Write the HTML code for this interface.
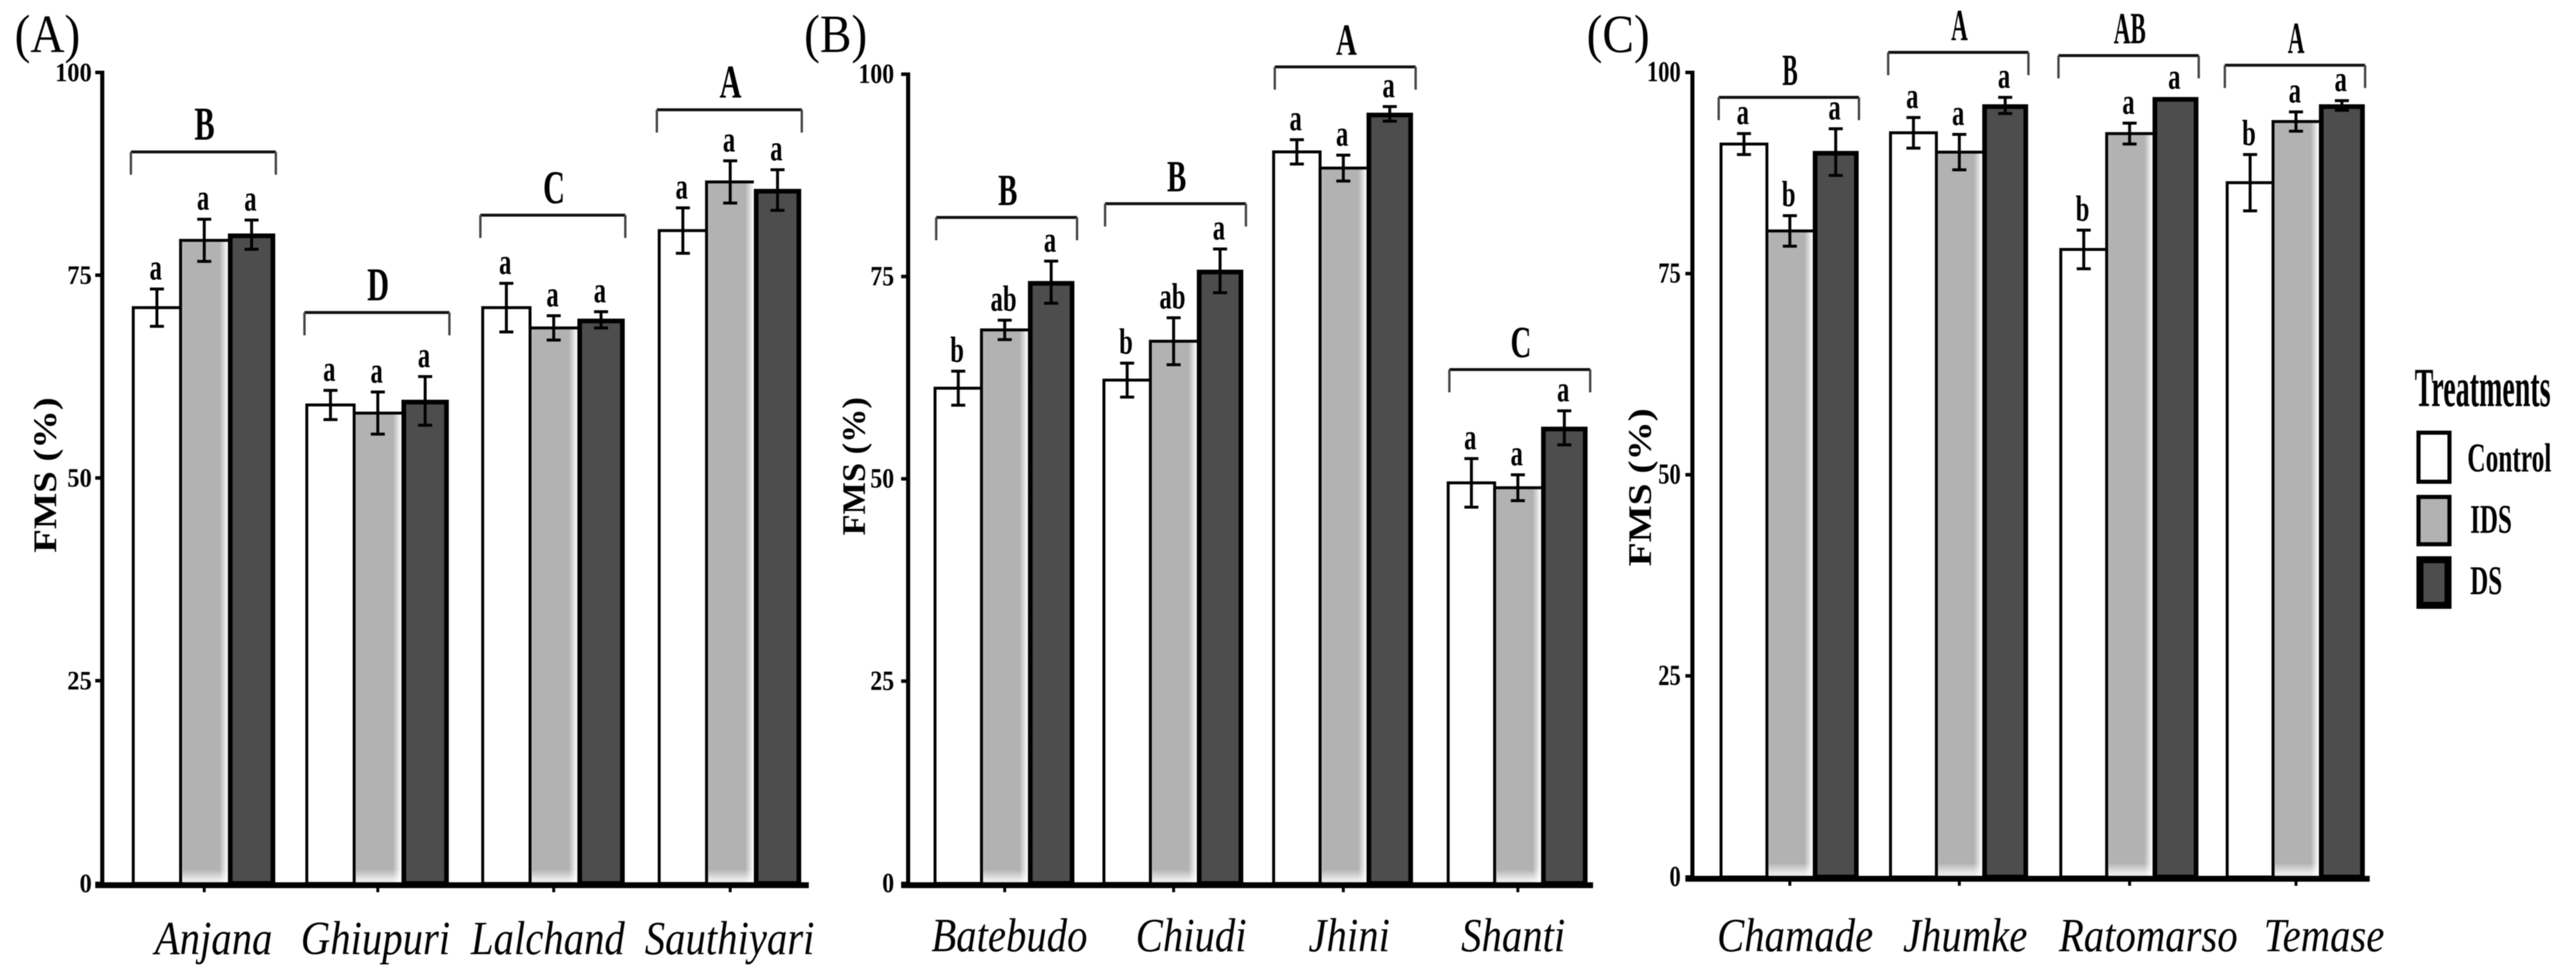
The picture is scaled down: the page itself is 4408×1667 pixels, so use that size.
<!DOCTYPE html>
<html lang="en">
<head>
<meta charset="utf-8">
<title>FMS by treatment</title>
<style>
html,body{margin:0;padding:0;background:#fff;width:4408px;height:1667px;overflow:hidden}
svg{display:block;filter:blur(0.9px)}
text{font-family:"Liberation Serif",serif;fill:#000}
</style>
</head>
<body>
<svg id="fig" xmlns="http://www.w3.org/2000/svg" width="4408" height="1667" viewBox="0 0 4408 1667">
<defs>
<linearGradient id="idsFill" x1="0" x2="1" y1="0" y2="0">
<stop offset="0" stop-color="#bdbdbd"/><stop offset="0.08" stop-color="#b2b2b2"/><stop offset="0.82" stop-color="#b2b2b2"/><stop offset="0.96" stop-color="#eeeeee"/><stop offset="1" stop-color="#fff"/>
</linearGradient>
<linearGradient id="baseFade" x1="0" x2="0" y1="0" y2="1">
<stop offset="0" stop-color="#fff" stop-opacity="0"/><stop offset="0.7" stop-color="#fff" stop-opacity="0.7"/><stop offset="1" stop-color="#fff" stop-opacity="0.7"/>
</linearGradient>
</defs>
<g id="legend">
<text transform="translate(4132,695) scale(0.51,1)" font-size="94" font-weight="bold">Treatments</text>
<rect x="4138.5" y="740.5" width="53" height="84" fill="#fff" stroke="#000" stroke-width="7"/>
<text transform="translate(4222,807) scale(0.62,1)" font-size="70" font-weight="bold">Control</text>
<rect x="4138.5" y="850.5" width="53" height="81" fill="#b2b2b2" stroke="#000" stroke-width="7"/>
<text transform="translate(4227,912) scale(0.61,1)" font-size="70" font-weight="bold">IDS</text>
<rect x="4141" y="958" width="48" height="78" fill="#4d4d4d" stroke="#000" stroke-width="12"/>
<text transform="translate(4227,1017) scale(0.61,1)" font-size="70" font-weight="bold">DS</text>
</g>
</svg>
<script>
const yTickLabels = [0, 25, 50, 75, 100];
const seriesNames = ['control', 'ids', 'ds'];

const categoriesA = ['Anjana', 'Ghiupuri', 'Lalchand', 'Sauthiyari'];
const controlA = [71, 59, 71, 80.5];
const idsA = [79.3, 58, 68.5, 86.5];
const dsA = [80, 59.5, 69.5, 85.5];
const controlErrA = [2.3, 1.8, 3, 2.8];
const idsErrA = [2.6, 2.6, 1.5, 2.6];
const dsErrA = [1.8, 3, 1, 2.5];
const controlSigA = ['a', 'a', 'a', 'a'];
const idsSigA = ['a', 'a', 'a', 'a'];
const dsSigA = ['a', 'a', 'a', 'a'];
const groupSigA = ['B', 'D', 'C', 'A'];
const bracketA = [90.2, 70.4, 82.4, 95.4];

const categoriesB = ['Batebudo', 'Chiudi', 'Jhini', 'Shanti'];
const controlB = [61.2, 62.2, 90.4, 49.5];
const idsB = [68.4, 67, 88.4, 48.9];
const dsB = [74.3, 75.7, 95.1, 56.3];
const controlErrB = [2.1, 2.1, 1.5, 3];
const idsErrB = [1.2, 2.9, 1.6, 1.6];
const dsErrB = [2.6, 2.7, 0.9, 2.1];
const controlSigB = ['b', 'b', 'a', 'a'];
const idsSigB = ['ab', 'ab', 'a', 'a'];
const dsSigB = ['a', 'a', 'a', 'a'];
const groupSigB = ['B', 'B', 'A', 'C'];
const bracketB = [82.3, 84, 100.9, 63.5];

const categoriesC = ['Chamade', 'Jhumke', 'Ratomarso', 'Temase'];
const controlC = [91.1, 92.5, 78, 86.3];
const idsC = [80.3, 90.1, 92.4, 93.9];
const dsC = [90.1, 95.9, 96.8, 95.9];
const controlErrC = [1.3, 1.9, 2.4, 3.5];
const idsErrC = [1.9, 2.2, 1.3, 1.2];
const dsErrC = [2.9, 1, 0, 0.6];
const controlSigC = ['a', 'a', 'b', 'b'];
const idsSigC = ['b', 'a', 'a', 'a'];
const dsSigC = ['a', 'a', 'a', 'a'];
const groupSigC = ['B', 'A', 'AB', 'A'];
const bracketC = [96.9, 102.5, 102.1, 100.9];

const NS = 'http://www.w3.org/2000/svg';
const fig = document.getElementById('fig');

function shape(parent, tag, attrs) {
  const el = document.createElementNS(NS, tag);
  for (const k in attrs) el.setAttribute(k, attrs[k]);
  parent.appendChild(el);
  return el;
}
function label(parent, str, x, y, size, sx, anchor, weight, style) {
  const el = document.createElementNS(NS, 'text');
  el.setAttribute('transform', 'translate(' + x + ',' + y + ') scale(' + sx + ',1)');
  el.setAttribute('font-size', size);
  el.setAttribute('text-anchor', anchor);
  el.setAttribute('font-weight', weight);
  el.setAttribute('font-style', style);
  el.textContent = str;
  parent.appendChild(el);
  return el;
}

function drawPanel(p) {
  const g = shape(fig, 'g', {});
  
  

  const y = v => p.yZero - (v / 100) * (p.yZero - p.yTop);
  const groupX = i => p.groupStart + i * p.groupStep + p.groupNudge[i];
  const barX = (i, s) => groupX(i) + s * p.barW;
  const series = [p.control, p.ids, p.ds];
  const errs = [p.controlErr, p.idsErr, p.dsErr];
  const sigs = [p.controlSig, p.idsSig, p.dsSig];

  const panelLabel = label(g, '(' + p.id.toUpperCase() + ')', p.labelX, 89, 92, 0.88, 'start', 'normal', 'normal');
  
  

  p.categories.forEach((cat, i) => {
    series.forEach((vals, s) => {
      const x = barX(i, s), w = p.barW, top = y(vals[i]);
      let bar;
      if (s === 0) {
        bar = shape(g, 'rect', {x: x, y: top, width: w, height: p.yZero - top, fill: '#fff', stroke: '#000', 'stroke-width': 5});
      } else if (s === 1) {
        bar = shape(g, 'rect', {x: x, y: top, width: w, height: p.yZero - top, fill: 'url(#idsFill)'});
        shape(g, 'rect', {x: x + 3, y: p.yZero - 24, width: w - 3, height: 24, fill: 'url(#baseFade)'});
        shape(g, 'path', {d: 'M' + x + ' ' + p.yZero + 'V' + top + 'H' + (x + w), fill: 'none', stroke: '#000', 'stroke-width': 5});
      } else {
        bar = shape(g, 'rect', {x: x + 4, y: top + 2, width: w - 8, height: p.yZero - top - 2, fill: '#4d4d4d', stroke: '#000', 'stroke-width': 8});
      }
      
      
    });
  });

  p.categories.forEach((cat, i) => {
    series.forEach((vals, s) => {
      const cx = barX(i, s) + p.barW / 2;
      const e = errs[s][i];
      const hi = y(vals[i] + e), lo = y(vals[i] - e);
      if (e > 0) {
        const eb = shape(g, 'path', {d: 'M' + (cx - 12) + ' ' + hi + 'H' + (cx + 12) + 'M' + cx + ' ' + hi + 'V' + lo + 'M' + (cx - 12) + ' ' + lo + 'H' + (cx + 12), fill: 'none', stroke: '#000', 'stroke-width': 5});
        
        
      }
      const sig = label(g, sigs[s][i], cx - 2, hi - 16, 62, 0.68, 'middle', 'bold', 'normal');
      
      
    });

    const left = groupX(i) + p.bracketShift, right = left + p.bracketW, by = y(p.bracket[i]);
    const brTop = shape(g, 'path', {d: 'M' + left + ' ' + by + 'H' + right, fill: 'none', stroke: '#111', 'stroke-width': 5});
    
    
    const brTips = shape(g, 'path', {d: 'M' + left + ' ' + (by + 39) + 'V' + by + 'M' + right + ' ' + (by + 39) + 'V' + by, fill: 'none', stroke: '#444', 'stroke-width': 4});
    
    
    const gs = label(g, p.groupSig[i], (left + right) / 2 + 2, by - 21, p.groupSize, p.groupSx, 'middle', 'bold', 'normal');
    
    

    const cx = groupX(i) + 1.5 * p.barW;
    const tick = shape(g, 'line', {x1: cx, x2: cx, y1: p.yZero, y2: p.yZero + 15, stroke: '#000', 'stroke-width': 5});
    
    
    const cl = label(g, cat, cx + p.labelShift[i], p.catBase, 82, 0.85, 'middle', 'normal', 'italic');
    
    
  });

  yTickLabels.forEach(v => {
    const t = shape(g, 'line', {x1: p.axisX - 12, x2: p.axisX, y1: y(v), y2: y(v), stroke: '#000', 'stroke-width': 6});
    
    
    const tl = label(g, String(v), p.tickRight, y(v) + 15, p.tickSize, p.tickSx, 'end', 'bold', 'normal');
    
    
  });

  const yAxis = shape(g, 'line', {x1: p.axisX, x2: p.axisX, y1: p.yTop - 3, y2: p.yZero + 5, stroke: '#000', 'stroke-width': 7});
  
  
  const xAxis = shape(g, 'line', {x1: p.axisX - 12, x2: p.xEnd, y1: p.yZero + 3, y2: p.yZero + 3, stroke: '#000', 'stroke-width': 10});
  
  

  const title = document.createElementNS(NS, 'text');
  title.setAttribute('transform', 'translate(' + p.titleX + ',' + p.titleY + ') rotate(-90) scale(' + p.titleSx + ',1)');
  title.setAttribute('font-size', 56);
  title.setAttribute('font-weight', 'bold');
  title.setAttribute('text-anchor', 'middle');
  title.textContent = 'FMS (%)';
  
  
  g.appendChild(title);
}

drawPanel({id: 'a', categories: categoriesA, control: controlA, ids: idsA, ds: dsA,
  controlErr: controlErrA, idsErr: idsErrA, dsErr: dsErrA,
  controlSig: controlSigA, idsSig: idsSigA, dsSig: dsSigA, groupSig: groupSigA, bracket: bracketA,
  axisX: 175, yTop: 124, yZero: 1512, xEnd: 1384, groupStart: 228, groupStep: 300, barW: 81,
  groupNudge: [0, -3, -2, 0], bracketShift: -4, bracketW: 248, groupSize: 80, groupSx: 0.65,
  tickSize: 46, tickSx: 0.91,
  labelX: 25, tickRight: 157, catBase: 1633, labelShift: [16, -4, -10, -1],
  titleX: 96, titleY: 813, titleSx: 1.18});

drawPanel({id: 'b', categories: categoriesB, control: controlB, ids: idsB, ds: dsB,
  controlErr: controlErrB, idsErr: idsErrB, dsErr: dsErrB,
  controlSig: controlSigB, idsSig: idsSigB, dsSig: dsSigB, groupSig: groupSigB, bracket: bracketB,
  axisX: 1554, yTop: 127, yZero: 1512, xEnd: 2726, groupStart: 1600, groupStep: 292.7, barW: 79.5,
  groupNudge: [0, -3.7, -6, 0], bracketShift: 2, bracketW: 241, groupSize: 76, groupSx: 0.65,
  tickSize: 48, tickSx: 0.85,
  labelX: 1376, tickRight: 1530, catBase: 1628, labelShift: [8, 30, 10, -8],
  titleX: 1480, titleY: 798, titleSx: 1.05});

drawPanel({id: 'c', categories: categoriesC, control: controlC, ids: idsC, ds: dsC,
  controlErr: controlErrC, idsErr: idsErrC, dsErr: dsErrC,
  controlSig: controlSigC, idsSig: idsSigC, dsSig: dsSigC, groupSig: groupSigC, bracket: bracketC,
  axisX: 2896, yTop: 124, yZero: 1501, xEnd: 4055, groupStart: 2945, groupStep: 288.7, barW: 78.5,
  groupNudge: [0, 1.3, 4, 0], bracketShift: -4, bracketW: 240, groupSize: 76, groupSx: 0.52,
  tickSize: 50, tickSx: 0.77,
  labelX: 2715, tickRight: 2876, catBase: 1628, labelShift: [9, 10, 32, 48],
  titleX: 2825, titleY: 834, titleSx: 1.2});
</script>
</body>
</html>
